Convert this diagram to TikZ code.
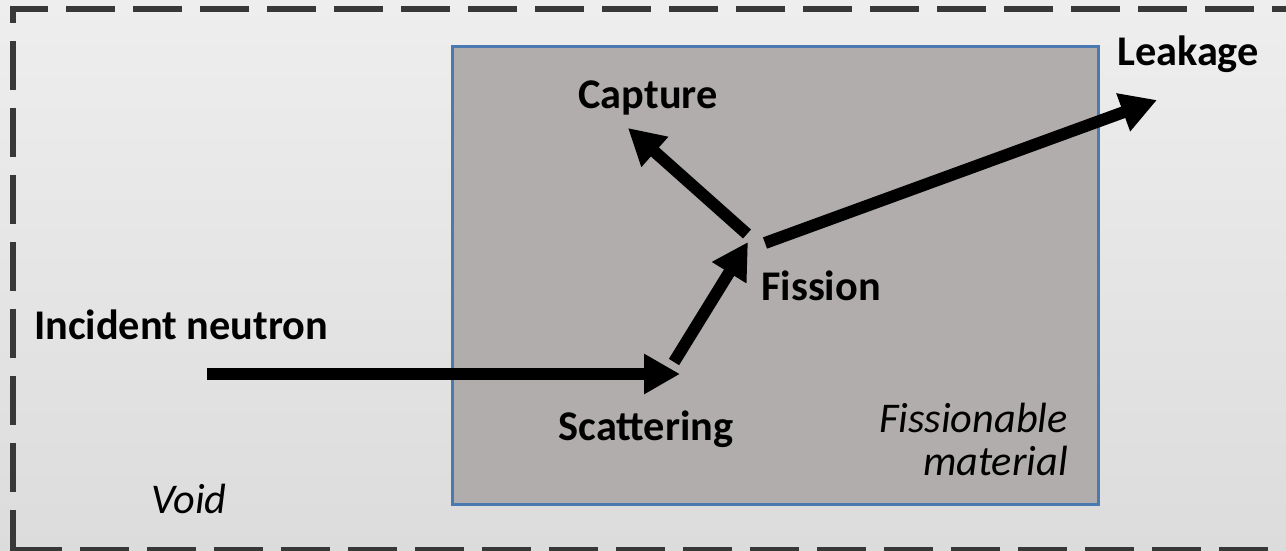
\documentclass[tikz,border=0pt]{standalone}
\usepackage{fontspec}
\setmainfont{Carlito}
\usetikzlibrary{arrows.meta}
\definecolor{bgtop}{RGB}{238,238,238}
\definecolor{bgbot}{RGB}{220,220,220}
\definecolor{dashc}{RGB}{56,56,56}
\definecolor{boxfill}{RGB}{176,173,172}
\definecolor{boxline}{RGB}{74,122,176}
\tikzset{
  lbl/.style={font=\fontsize{42.3}{46}\selectfont\bfseries, inner sep=0pt, anchor=base},
  ilbl/.style={font=\fontsize{42.3}{46}\selectfont\itshape, inner sep=0pt},
  frame/.style={draw=dashc, line width=6pt, dash pattern=on 49pt off 18pt},
  flow/.style={line width=12pt, -{Triangle[length=36pt,width=38pt]}},
}
\begin{document}
\begin{tikzpicture}[x=1pt,y=-1pt]
\useasboundingbox (0,0) rectangle (1286,550);
\shade[top color=bgtop, bottom color=bgbot] (0,0) rectangle (1286,550);
% dashed frame
\draw[frame, dash phase=11pt] (10,9) -- (1300,9);
\draw[frame, dash phase=32pt] (13,6) -- (13,553);
\draw[frame] (13,550) -- (1300,550);
% material box
\node[draw=boxline, line width=2.5pt, fill=boxfill, minimum width=646pt, minimum height=458pt, inner sep=0pt, anchor=north west] (box) at (451,45) {};
% labels
\node[lbl] (leak) at (1188,65) {Leakage};
\node[lbl] (capt) at (648,108) {Capture};
\node[lbl] (fiss) at (821,300) {Fission};
\node[lbl] (inc) at (181,339) {Incident neutron};
\node[lbl] (scat) at (646,440) {Scattering};
\node[ilbl, anchor=base east] (mat1) at (1068,432) {Fissionable};
\node[ilbl, anchor=base east] (mat2) at (1068,475) {material};
\node[ilbl, anchor=base] (void) at (189,513) {Void};
% path points
\coordinate (src) at (207,374);
\coordinate (sc) at (680,374);
\coordinate (scout) at (674,362);
\coordinate (fi) at (748,242);
\coordinate (fiA) at (747,234);
\coordinate (cp) at (628,128);
\coordinate (fiB) at (765,243);
\coordinate (lk) at (1157,100);
\draw[flow] (src) -- (sc);
\draw[flow] (scout) -- (fi);
\draw[flow] (fiA) -- (cp);
\draw[flow] (fiB) -- (lk);
\end{tikzpicture}
\end{document}
